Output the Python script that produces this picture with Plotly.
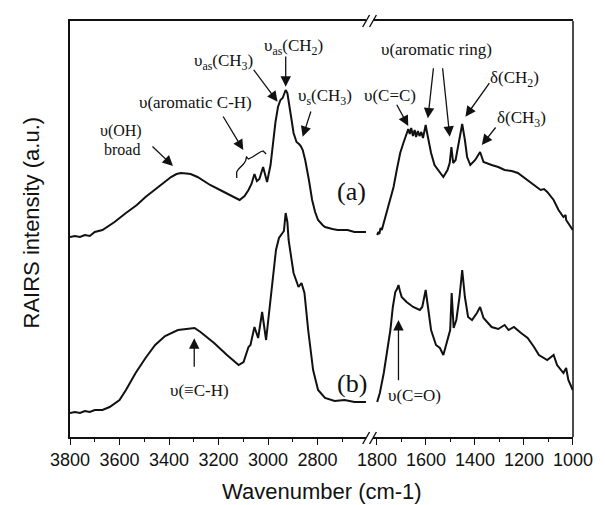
import plotly.graph_objects as go

# ---------------- data (a.u. intensities) ----------------
wn_a_hi = [3800, 3780, 3760, 3740, 3720, 3700, 3669, 3620, 3574, 3530, 3495, 3444, 3392, 3370,
           3352, 3330, 3313, 3285, 3234, 3178, 3127, 3115, 3095, 3079, 3067, 3055, 3045, 3035,
           3020, 3010, 3004, 2990, 2980, 2970, 2960, 2950, 2941, 2935, 2929, 2922, 2917, 2905,
           2897, 2885, 2875, 2868, 2860, 2850, 2835, 2822, 2810, 2798, 2780, 2770, 2740, 2719,
           2700, 2679, 2651, 2620, 2600]
int_a_hi = [200, 201, 200, 202, 201, 205, 207, 215, 224, 232, 240, 250, 260, 263,
            264, 263.5, 263, 260, 252, 245, 238, 237, 241, 247, 253, 263, 256, 258,
            270, 262, 255, 272, 294, 315, 330, 337, 339, 343, 347, 344, 337, 317,
            304, 295, 293, 291, 287, 277, 257, 237, 225, 217, 212, 210, 208, 207,
            207, 207, 205, 205, 205]

wn_b_hi = [3800, 3780, 3760, 3740, 3720, 3700, 3669, 3640, 3600, 3574, 3535, 3495, 3456, 3416,
           3364, 3325, 3297, 3273, 3218, 3166, 3119, 3099, 3079, 3071, 3055, 3040, 3024, 3008,
           2988, 2968, 2956, 2945, 2936, 2929, 2922, 2917, 2897, 2877, 2865, 2853, 2838, 2818,
           2798, 2770, 2731, 2691, 2651, 2600]
int_b_hi = [24, 25, 24, 26, 25, 27, 27, 30, 37, 47, 64, 79, 92, 101,
            107, 108, 109, 105, 94, 82, 72, 75, 90, 92, 110, 99, 125, 97,
            140, 187, 199, 203, 206, 224, 215, 197, 164, 150, 154, 144, 107, 67,
            47, 39, 36, 37, 35, 35]

wn_a_lo = [1799, 1794, 1790, 1785, 1780, 1772, 1759, 1745, 1732, 1719, 1705, 1692, 1679, 1672,
           1666, 1660, 1653, 1646, 1640, 1633, 1626, 1619, 1612, 1605, 1601, 1596, 1592, 1579,
           1565, 1545, 1529, 1512, 1503, 1496, 1489, 1479, 1465, 1452, 1441, 1432, 1419, 1399,
           1379, 1365, 1332, 1305, 1279, 1250, 1225, 1199, 1180, 1159, 1132, 1118, 1105, 1079,
           1059, 1039, 1030, 1028, 1019, 1001]
int_a_lo = [202, 205, 203, 209, 207, 214, 224, 237, 250, 267, 284, 294, 302, 308,
            303, 309, 301, 307, 300, 306, 301, 305, 299, 307, 312, 305, 300, 284,
            272, 265, 260, 267, 274, 290, 274, 277, 294, 313, 297, 280, 272, 277,
            285, 275, 272, 270, 267, 266, 264, 259, 256, 252, 247, 248, 245, 237,
            227, 220, 222, 217, 214, 207]

wn_b_lo = [1799, 1794, 1788, 1772, 1759, 1745, 1735, 1725, 1718, 1712, 1706, 1699, 1679, 1652,
           1625, 1615, 1601, 1592, 1579, 1559, 1543, 1529, 1512, 1501, 1495, 1487, 1476, 1463,
           1452, 1441, 1428, 1412, 1392, 1379, 1365, 1332, 1305, 1279, 1263, 1241, 1212, 1185,
           1159, 1139, 1105, 1079, 1065, 1039, 1028, 1019, 1001]
int_b_lo = [35, 40, 44, 64, 84, 107, 130, 145, 148, 152, 146, 140, 135, 130,
            127, 130, 147, 130, 107, 92, 89, 82, 97, 107, 144, 109, 117, 140,
            167, 140, 120, 117, 124, 130, 119, 110, 108, 112, 107, 110, 104, 99,
            90, 82, 77, 82, 72, 64, 69, 57, 47]

hi_ticks = [3800, 3600, 3400, 3200, 3000, 2800]
lo_ticks = [1800, 1600, 1400, 1200, 1000]

# ---------------- layout geometry (pixels) ----------------
W, H = 605, 505
L, R, T, B = 70, 583, 21, 437


def px(x):
    return (x - L) / (R - L)


def py(y):
    return (B - y) / (B - T)


LINE = dict(color="#111111", width=2.0)

fig = go.Figure()
fig.add_trace(go.Scatter(x=wn_a_hi, y=int_a_hi, mode="lines", line=LINE, xaxis="x", yaxis="y"))
fig.add_trace(go.Scatter(x=wn_b_hi, y=int_b_hi, mode="lines", line=LINE, xaxis="x", yaxis="y"))
fig.add_trace(go.Scatter(x=wn_a_lo, y=int_a_lo, mode="lines", line=LINE, xaxis="x2", yaxis="y"))
fig.add_trace(go.Scatter(x=wn_b_lo, y=int_b_lo, mode="lines", line=LINE, xaxis="x2", yaxis="y"))

axis_common = dict(
    showline=True, linecolor="#111111", linewidth=1.5, mirror=True,
    ticks="outside", ticklen=6, tickwidth=1.3, tickcolor="#111111",
    showgrid=False, zeroline=False, ticklabelstandoff=0,
    tickfont=dict(family="Liberation Sans, Arial", size=18, color="#111111"),
    minor=dict(dtick=100, tick0=1000, ticks="outside", ticklen=3, tickwidth=1.3, tickcolor="#111111"),
)

x1_end = 372
x2_start = 379
fig.update_layout(
    width=W, height=H,
    margin=dict(l=L, r=W - R, t=T, b=H - B),
    paper_bgcolor="white", plot_bgcolor="white",
    showlegend=False,
    xaxis=dict(domain=[0, px(x1_end)], range=[3800, 3800 - (x1_end - L) / 0.2525],
               tickvals=hi_ticks, anchor="y", **axis_common),
    xaxis2=dict(domain=[px(x2_start), 1], range=[1000 + (R - x2_start) / 0.25, 1000],
                tickvals=lo_ticks, anchor="y", **axis_common),
    yaxis=dict(range=[0, B - T], showticklabels=False, ticks="", showgrid=False, zeroline=False,
               showline=True, linecolor="#111111", linewidth=1.5, anchor="x"),
)

shapes = []
# right frame line
shapes.append(dict(type="line", xref="paper", yref="paper", x0=1, x1=1, y0=0, y1=1,
                   line=dict(color="#111111", width=1.5)))
# break slashes on bottom and top
for yl in (B + 1, T):
    for xs in (368.5, 375.5):
        shapes.append(dict(type="line", xref="paper", yref="paper",
                           x0=px(xs), y0=py(yl + 6), x1=px(xs + 7), y1=py(yl - 6),
                           line=dict(color="#111111", width=1.4)))
# curly brace for aromatic C-H
brace_pts = [(240, 178), (240, 172), (242, 169), (247, 164), (249, 161), (250, 157),
             (252, 159), (256, 157), (264, 152), (267, 151), (270, 154)]
path = "M " + " L ".join(f"{px(x):.4f},{py(y):.4f}" for x, y in brace_pts)
shapes.append(dict(type="path", xref="paper", yref="paper", path=path,
                   line=dict(color="#111111", width=1.3)))
fig.update_layout(shapes=shapes)

SERIF = "Liberation Serif, Times New Roman"
texts = [
    ("υ(OH)", 121.7, 130.5, 16),
    ("broad", 123, 149.5, 16),
    ("υ(aromatic C-H)", 198, 103, 17),
    ("υ<sub>as</sub>(CH<sub>3</sub>)", 226.7, 62, 17),
    ("υ<sub>as</sub>(CH<sub>2</sub>)", 298.3, 47, 17),
    ("υ<sub>s</sub>(CH<sub>3</sub>)", 330, 97, 17),
    ("υ(≡C-H)", 201.7, 390, 17),
    ("υ(aromatic ring)", 443.3, 50, 17),
    ("υ(C=C)", 396.7, 95, 17),
    ("δ(CH<sub>2</sub>)", 523.3, 78.5, 17),
    ("δ(CH<sub>3</sub>)", 530, 118.5, 17),
    ("υ(C=O)", 421.7, 395, 17),
    ("(a)", 357.6, 191.7, 26),
    ("(b)", 357.6, 383.3, 26),
]
annotations = []
for t, x, y, s in texts:
    annotations.append(dict(text=t, x=px(x), y=py(y), xref="paper", yref="paper",
                            xanchor="center", yanchor="middle", showarrow=False,
                            font=dict(family=SERIF, size=s, color="#111111")))

arrows = [
    ((153, 145), (175, 166)),
    ((225.7, 115), (246.7, 150)),
    ((256.7, 68.3), (281.7, 101.7)),
    ((290, 55), (290, 86.7)),
    ((316, 110), (307.3, 136.7)),
    ((196.7, 368.3), (196.7, 338.3)),
    ((440.7, 66.7), (435, 118.3)),
    ((450, 66.7), (457.3, 136.7)),
    ((402.7, 103.3), (415, 126)),
    ((498.3, 81.7), (473.3, 116.7)),
    ((505, 126), (490, 145)),
    ((405, 381.7), (405, 320)),
]
for (tx, ty), (hx, hy) in arrows:
    annotations.append(dict(text="", x=px(hx), y=py(hy), xref="paper", yref="paper",
                            ax=tx - hx, ay=ty - hy, showarrow=True,
                            arrowhead=2, arrowsize=1.6, arrowwidth=1.3, arrowcolor="#111111",
                            standoff=0, startstandoff=0))

annotations.append(dict(text="Wavenumber (cm-1)", x=px(326.5), y=py(491), xref="paper", yref="paper",
                        xanchor="center", yanchor="middle", showarrow=False,
                        font=dict(family="Liberation Sans, Arial", size=22, color="#111111")))
annotations.append(dict(text="RAIRS intensity (a.u.)", x=px(31.7), y=py(222), xref="paper", yref="paper",
                        xanchor="center", yanchor="middle", showarrow=False, textangle=-90,
                        font=dict(family="Liberation Sans, Arial", size=22, color="#111111")))
fig.update_layout(annotations=annotations)

fig.write_html("out.html")
